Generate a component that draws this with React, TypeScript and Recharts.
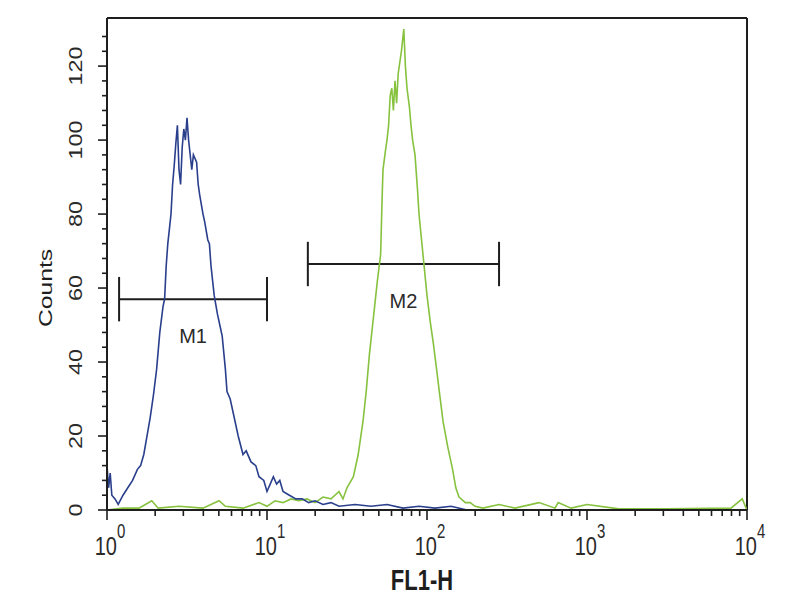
import React from 'react';
import { LineChart, Line, XAxis, YAxis, ReferenceLine } from 'recharts';

// FL1-H channel values (log scale) and event counts
const blueFL = [
  1.0, 1.023, 1.047, 1.072, 1.122, 1.175, 1.259, 1.349, 1.445, 1.549, 1.622, 1.698, 1.778, 1.862, 1.95,
  2.042, 2.138, 2.239, 2.291, 2.344, 2.399, 2.455, 2.512, 2.57, 2.63, 2.692, 2.754, 2.818, 2.884, 2.951,
  3.02, 3.09, 3.162, 3.236, 3.311, 3.388, 3.467, 3.631, 3.715, 3.802, 3.981, 4.074, 4.266, 4.365, 4.467,
  4.677, 4.898, 5.129, 5.248, 5.495, 5.623, 5.888, 6.31, 6.607, 7.079, 7.413, 7.943, 8.511, 8.913, 9.55,
  10.0, 10.47, 10.96, 11.48, 12.02, 12.59, 13.8, 15.14, 16.6, 18.2, 19.95, 22.39, 25.12, 28.18, 35.48,
  44.67, 56.23, 70.79, 89.13, 112.2, 141.3, 177.8, 251.2, 398, 631, 1000, 1995, 3981, 10000,
];
const blueCounts = [
  12, 6, 10, 4, 3, 1.5, 4, 6, 8, 11, 12, 15, 20, 25, 31,
  38, 48, 55, 57, 66, 72, 76, 80, 88, 93, 99, 104, 92, 88, 98,
  103, 100, 106, 100, 96, 92, 96, 94, 88, 85, 80, 78, 73, 72, 66,
  58, 53, 49, 47, 38, 32, 30, 24, 20, 15, 16, 13, 12, 9, 8,
  5, 7, 9, 7, 8, 5, 4, 3, 3, 2, 2.5, 1.5, 2, 1, 1.5,
  1, 1.5, 0.5, 1, 0.5, 1, 0, 0, 0, 0, 0, 0, 0, 0,
];

const greenFL = [
  1.0, 1.259, 1.585, 1.905, 2.089, 2.818, 3.981, 5.012, 5.495, 7.079, 8.913, 10.0, 11.22, 12.59, 14.13,
  15.85, 17.78, 19.95, 22.39, 25.12, 28.18, 29.85, 31.62, 34.67, 37.15, 39.81, 41.69, 43.65, 45.71, 47.32,
  48.98, 51.29, 52.48, 53.09, 54.95, 56.23, 57.54, 58.88, 60.26, 61.66, 63.1, 64.57, 66.07, 69.18, 71.61,
  73.28, 74.99, 77.62, 79.43, 81.28, 84.14, 87.1, 89.13, 94.41, 100, 104.7, 109.6, 114.8, 120.2, 125.9,
  134.9, 144.5, 151.4, 158.5, 173.8, 186.2, 199.5, 223.9, 281.8, 354.8, 501.2, 631, 660.7, 794.3, 1000,
  1585, 3162, 7943, 9333, 10000,
];
const greenCounts = [
  0, 0.5, 0.5, 2.5, 0.5, 1, 0.5, 2.5, 1, 0.5, 2, 1, 2.5, 2, 3,
  2.5, 3, 2, 3.5, 3, 5, 3, 6, 9, 15, 24, 32, 42, 50, 56,
  62, 69, 85, 92, 97, 100, 104, 112, 114, 108, 116, 110, 118, 124, 130,
  120, 114, 109, 104, 100, 96, 87, 80, 69, 58, 51, 45, 38, 31, 24,
  17, 11, 6, 3.5, 2, 2, 1, 0.5, 1.5, 0.5, 2, 0.5, 2, 0.5, 1.5,
  0.3, 0.3, 0.5, 3, 0,
];

const decadeTicks = [1, 10, 100, 1000, 10000];
const xTicks = [
  1, 2, 3, 4, 5, 6, 7, 8, 9,
  10, 20, 30, 40, 50, 60, 70, 80, 90,
  100, 200, 300, 400, 500, 600, 700, 800, 900,
  1000, 2000, 3000, 4000, 5000, 6000, 7000, 8000, 9000,
  10000,
];
const yTicks = [0, 4, 8, 12, 16, 20, 24, 28, 32, 36, 40, 44, 48, 52, 56, 60, 64, 68, 72, 76, 80, 84, 88, 92, 96, 100, 104, 108, 112, 116, 120, 124, 128];

const markers = [
  { name: 'M1', from: 1.19, to: 10, count: 57 },
  { name: 'M2', from: 18, to: 282, count: 66.5 },
];

const blueData = blueFL.map((fl, i) => ({ fl, count: blueCounts[i] }));
const greenData = greenFL.map((fl, i) => ({ fl, count: greenCounts[i] }));

const font = '"Liberation Sans", Arial, sans-serif';
const ink = '#1e1e1e';
const textInk = '#2a2a2a';

const FlTick = (props: any) => {
  const { x, y, payload } = props;
  const major = decadeTicks.includes(payload.value);
  const exp = Math.round(Math.log10(payload.value));
  return (
    <g>
      <line x1={x} x2={x} y1={y} y2={y + (major ? 10 : 6)} stroke={ink} strokeWidth={1.6} />
      {major && (
        <text
          transform={`translate(${x + 3},${y + 45}) scale(1,1.3)`}
          textAnchor="middle"
          fontFamily={font}
          fontSize={20}
          fill={textInk}
        >
          10
          <tspan dy={-13} fontSize={15}>{exp}</tspan>
        </text>
      )}
    </g>
  );
};

const CountTick = (props: any) => {
  const { x, y, payload } = props;
  const major = payload.value % 20 === 0;
  return (
    <g>
      <line x1={x} x2={x - (major ? 9 : 5)} y1={y} y2={y} stroke={ink} strokeWidth={1.6} />
      {major && (
        <text
          transform={`translate(${x - 25},${y}) scale(1,1.3) rotate(-90)`}
          textAnchor="middle"
          fontFamily={font}
          fontSize={18}
          fill={textInk}
        >
          {payload.value}
        </text>
      )}
    </g>
  );
};

const FlLabel = (props: any) => {
  const { viewBox } = props;
  const cx = viewBox.x + viewBox.width / 2 - 5;
  return (
    <text
      transform={`translate(${cx},590) scale(1,1.35)`}
      textAnchor="middle"
      fontFamily={font}
      fontSize={22}
      fontWeight="bold"
      fill={ink}
    >
      FL1-H
    </text>
  );
};

const CountsLabel = (props: any) => {
  const { viewBox } = props;
  const cy = viewBox.y + viewBox.height / 2 + 24;
  return (
    <text
      transform={`translate(52,${cy}) scale(1,1.3) rotate(-90)`}
      textAnchor="middle"
      fontFamily={font}
      fontSize={19}
      fill={ink}
    >
      Counts
    </text>
  );
};

export default function App() {
  return (
    <div style={{ position: 'absolute', left: 0, top: 0, width: 800, height: 600, background: '#fff' }}>
      <LineChart width={800} height={600} margin={{ top: 18, right: 53, left: 47, bottom: 60 }}>
        <XAxis
          xAxisId={0}
          dataKey="fl"
          type="number"
          scale="log"
          domain={[1, 10000]}
          allowDataOverflow
          ticks={xTicks}
          interval={0}
          tickSize={0}
          tickMargin={0}
          tick={<FlTick />}
          axisLine={{ stroke: ink, strokeWidth: 2 }}
          label={<FlLabel />}
        />
        <YAxis
          yAxisId={0}
          type="number"
          domain={[0, 133]}
          allowDataOverflow
          ticks={yTicks}
          interval={0}
          tickSize={0}
          tickMargin={0}
          tick={<CountTick />}
          axisLine={{ stroke: ink, strokeWidth: 2 }}
          label={<CountsLabel />}
        />
        <ReferenceLine y={133} stroke={ink} strokeWidth={2} ifOverflow="visible" />
        <ReferenceLine x={10000} stroke={ink} strokeWidth={2} ifOverflow="visible" />
        {markers.map((m) => (
          <ReferenceLine
            key={m.name}
            segment={[{ x: m.from, y: m.count }, { x: m.to, y: m.count }]}
            stroke={ink}
            strokeWidth={2}
            label={{ value: m.name, position: 'bottom', offset: 30, fontFamily: font, fontSize: 20, fill: textInk }}
          />
        ))}
        {markers.map((m) => (
          <ReferenceLine
            key={m.name + 'a'}
            segment={[{ x: m.from, y: m.count - 6 }, { x: m.from, y: m.count + 6 }]}
            stroke={ink}
            strokeWidth={2}
          />
        ))}
        {markers.map((m) => (
          <ReferenceLine
            key={m.name + 'b'}
            segment={[{ x: m.to, y: m.count - 6 }, { x: m.to, y: m.count + 6 }]}
            stroke={ink}
            strokeWidth={2}
          />
        ))}
        <Line data={greenData} dataKey="count" type="linear" stroke="#86c23e" strokeWidth={1.6} dot={false} isAnimationActive={false} />
        <Line data={blueData} dataKey="count" type="linear" stroke="#2a3f8c" strokeWidth={1.6} dot={false} isAnimationActive={false} />
      </LineChart>
    </div>
  );
}
